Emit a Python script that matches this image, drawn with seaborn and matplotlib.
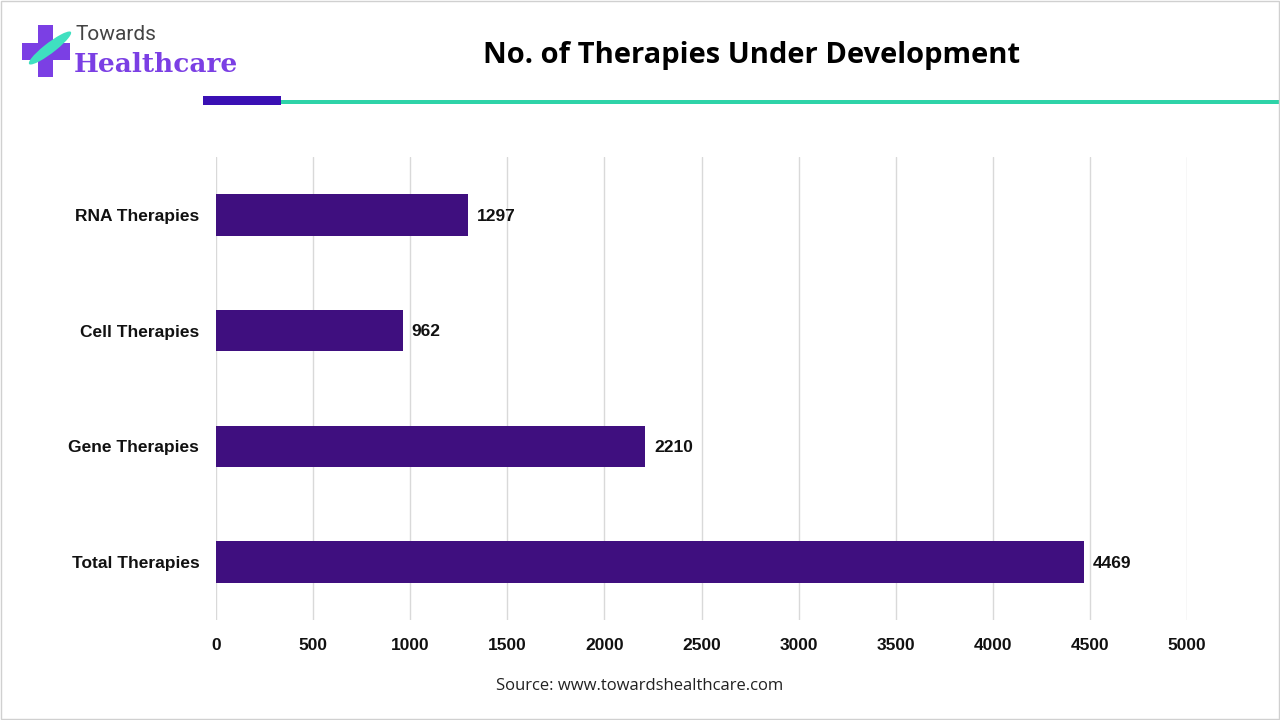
import matplotlib
matplotlib.use("Agg")
import matplotlib.pyplot as plt
import matplotlib.patches as mpatches
import pandas as pd
import seaborn as sns

# ---- Data ----
categories = ['RNA Therapies', 'Cell Therapies', 'Gene Therapies', 'Total Therapies']
values = [1297, 962, 2210, 4469]
x_ticks = [0, 500, 1000, 1500, 2000, 2500, 3000, 3500, 4000, 4500, 5000]

df = pd.DataFrame({'Category': categories, 'Count': values})

sns.set_theme(style='white')
plt.rcParams['font.family'] = ['Liberation Sans', 'DejaVu Sans']

fig = plt.figure(figsize=(12.8, 7.2), dpi=100)
ax = fig.add_axes([216 / 1280, 1 - 620 / 720, (1187 - 216) / 1280, (620 - 157) / 720])

sns.barplot(data=df, x='Count', y='Category', color='#3F0F7F', width=0.36,
            saturation=1, linewidth=0, ax=ax, zorder=3)
ax.set_xlim(0, 5000)
ax.set_ylim(3.5, -0.5)
ax.set_xticks(x_ticks)
ax.set_xticklabels([str(t) for t in x_ticks], fontsize=12.5, fontweight='bold', color='#111111')
ax.set_yticklabels(categories, fontsize=12.5, fontweight='bold', color='#111111')
ax.tick_params(axis='x', pad=13, length=0)
ax.tick_params(axis='y', pad=12, length=0)
ax.grid(axis='x', color='#D9D9D9', linewidth=1, zorder=0)
ax.set_xlabel('')
ax.set_ylabel('')
for s in ax.spines.values():
    s.set_visible(False)

for i, v in enumerate(values):
    ax.text(v + 45, i + 0.01, str(v), va='center', ha='left', fontsize=12.5,
            fontweight='bold', color='#111111')

# ---- Header ----
fig.text(752 / 1280, 1 - 55 / 720, 'No. of Therapies Under Development', ha='center', va='center',
         fontsize=21, fontweight='bold', family=['Open Sans', 'DejaVu Sans'], color='#000000')
fig.add_artist(mpatches.Rectangle((281 / 1280, 1 - 104 / 720), 1 - 281 / 1280, 4 / 720,
                                  transform=fig.transFigure, color='#2ED3A8', lw=0))
fig.add_artist(mpatches.Rectangle((203 / 1280, 1 - 105 / 720), 78 / 1280, 9 / 720,
                                  transform=fig.transFigure, color='#3A10B4', lw=0))

# logo
fig.add_artist(mpatches.Rectangle((38 / 1280, 1 - 77 / 720), 15 / 1280, 52 / 720,
                                  transform=fig.transFigure, color='#7B3FE4', lw=0))
fig.add_artist(mpatches.Rectangle((22 / 1280, 1 - 60 / 720), 48 / 1280, 17 / 720,
                                  transform=fig.transFigure, color='#7B3FE4', lw=0))
fig.add_artist(mpatches.Ellipse((50 / 1280, 1 - 48 / 720), 14 / 1280, 40 / 720, angle=-35,
                                transform=fig.transFigure, color='#3FE0C0', lw=0))
fig.text(75 / 1280, 1 - 35 / 720, 'Towards', ha='left', va='center', fontsize=15,
         family=['Roboto', 'DejaVu Sans'], color='#444444')
fig.text(74 / 1280, 1 - 65 / 720, 'Healthcare', ha='left', va='center', fontsize=19,
         fontweight='bold', family=['DejaVu Serif'], color='#7B3FE4')

# ---- Footer ----
fig.text(640 / 1280, 1 - 686 / 720, 'Source: www.towardshealthcare.com', ha='center', va='center',
         fontsize=12, family=['Open Sans', 'DejaVu Sans'], color='#222222')

# border
fig.add_artist(mpatches.Rectangle((0.001, 0.001), 0.998, 0.998, transform=fig.transFigure,
                                  fill=False, edgecolor='#D0D0D0', lw=1))

fig.savefig('out.png', dpi=100)
